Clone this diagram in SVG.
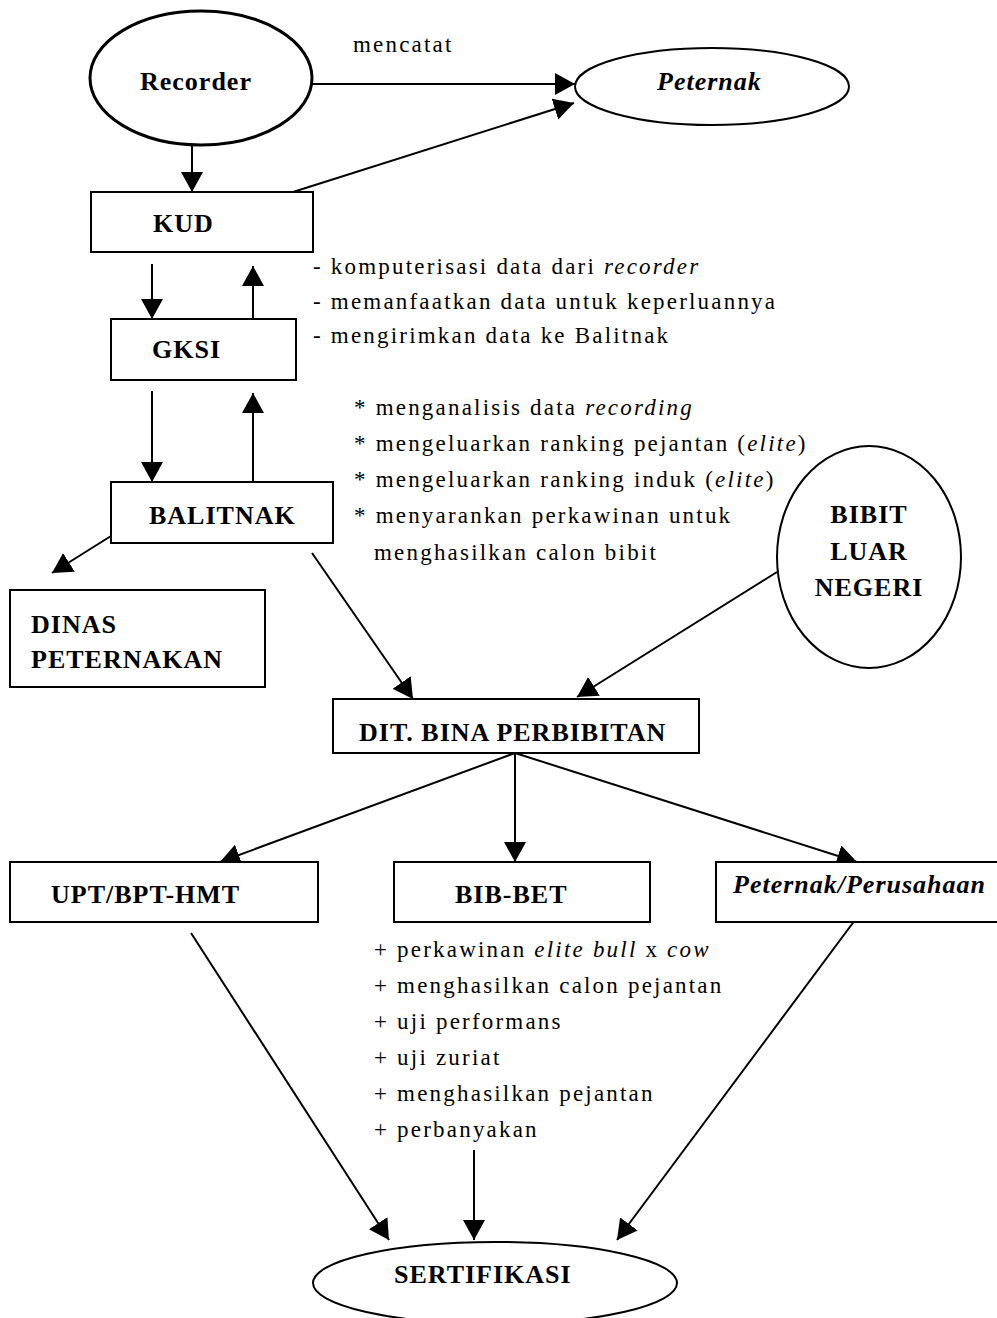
<svg xmlns="http://www.w3.org/2000/svg" width="997" height="1318" viewBox="0 0 997 1318">
<style>
.n{fill:#fff;stroke:#000;stroke-width:2}
.lbl{font-family:"Liberation Serif",serif;font-weight:bold;font-size:26px;letter-spacing:1px;fill:#000}
.txt{font-family:"Liberation Serif",serif;font-size:23px;letter-spacing:2.2px;fill:#000}
.c{stroke:#000;stroke-width:2;fill:none}
</style>
<defs>
<marker id="ah" markerUnits="userSpaceOnUse" markerWidth="22" markerHeight="24" refX="20" refY="11" orient="auto">
<path d="M0,0 L20,11 L0,22 z" fill="#000"/>
</marker>
</defs>
<rect width="997" height="1318" fill="#fff"/>
<g id="connectors">
<line class="c" x1="312" y1="84" x2="575" y2="84" marker-end="url(#ah)"/>
<line class="c" x1="293" y1="192" x2="574" y2="103" marker-end="url(#ah)"/>
<line class="c" x1="192" y1="138" x2="192" y2="192" marker-end="url(#ah)"/>
<line class="c" x1="152" y1="264" x2="152" y2="319" marker-end="url(#ah)"/>
<line class="c" x1="253" y1="319" x2="253" y2="266" marker-end="url(#ah)"/>
<line class="c" x1="152" y1="391" x2="152" y2="482" marker-end="url(#ah)"/>
<line class="c" x1="253" y1="482" x2="253" y2="393" marker-end="url(#ah)"/>
<line class="c" x1="111" y1="536" x2="52" y2="573" marker-end="url(#ah)"/>
<line class="c" x1="312" y1="553" x2="413" y2="699" marker-end="url(#ah)"/>
<line class="c" x1="777" y1="572" x2="577" y2="697" marker-end="url(#ah)"/>
<line class="c" x1="515" y1="753" x2="220" y2="862" marker-end="url(#ah)"/>
<line class="c" x1="515" y1="753" x2="515" y2="862" marker-end="url(#ah)"/>
<line class="c" x1="515" y1="753" x2="857" y2="862" marker-end="url(#ah)"/>
<line class="c" x1="191" y1="933" x2="389" y2="1240" marker-end="url(#ah)"/>
<line class="c" x1="474" y1="1150" x2="474" y2="1240" marker-end="url(#ah)"/>
<line class="c" x1="858" y1="916" x2="617" y2="1240" marker-end="url(#ah)"/>
</g>
<g id="recorder">
<ellipse cx="201" cy="78" rx="111" ry="67" fill="#fff" stroke="#000" stroke-width="3"/>
<text class="lbl" x="140" y="90">Recorder</text>
</g>
<g id="peternak">
<ellipse class="n" cx="712" cy="86.5" rx="137" ry="38.5" stroke-width="1.5"/>
<text class="lbl" x="657" y="90" font-style="italic" letter-spacing="0.5">Peternak</text>
</g>
<text class="txt" x="353" y="52">mencatat</text>
<g id="kud">
<rect class="n" x="91" y="192" width="222" height="60"/>
<text class="lbl" x="153" y="232">KUD</text>
</g>
<g id="gksi">
<rect class="n" x="111" y="319" width="185" height="61"/>
<text class="lbl" x="152" y="358">GKSI</text>
</g>
<g id="balitnak">
<rect class="n" x="111" y="482" width="222" height="61"/>
<text class="lbl" x="149" y="524">BALITNAK</text>
</g>
<g id="dinas">
<rect class="n" x="10" y="590" width="255" height="97"/>
<text class="lbl" x="31" y="633">DINAS</text>
<text class="lbl" x="31" y="668">PETERNAKAN</text>
</g>
<g id="bibit">
<ellipse class="n" cx="869" cy="557" rx="92" ry="111" stroke-width="1.5"/>
<text class="lbl" x="869" y="523" text-anchor="middle">BIBIT</text>
<text class="lbl" x="869" y="560" text-anchor="middle">LUAR</text>
<text class="lbl" x="869" y="596" text-anchor="middle">NEGERI</text>
</g>
<g id="notes1">
<text class="txt" x="313" y="274">- komputerisasi data dari <tspan font-style="italic">recorder</tspan></text>
<text class="txt" x="313" y="309">- memanfaatkan data untuk keperluannya</text>
<text class="txt" x="313" y="343">- mengirimkan data ke Balitnak</text>
</g>
<g id="notes2">
<text class="txt" x="354" y="415">* menganalisis data <tspan font-style="italic">recording</tspan></text>
<text class="txt" x="354" y="451">* mengeluarkan ranking pejantan (<tspan font-style="italic">elite</tspan>)</text>
<text class="txt" x="354" y="487">* mengeluarkan ranking induk (<tspan font-style="italic">elite</tspan>)</text>
<text class="txt" x="354" y="523">* menyarankan perkawinan untuk</text>
<text class="txt" x="374" y="560">menghasilkan calon bibit</text>
</g>
<g id="dit">
<rect class="n" x="333" y="699" width="366" height="54"/>
<text class="lbl" x="359" y="741">DIT. BINA PERBIBITAN</text>
</g>
<g id="upt">
<rect class="n" x="10" y="862" width="308" height="60"/>
<text class="lbl" x="51" y="903">UPT/BPT-HMT</text>
</g>
<g id="bib">
<rect class="n" x="394" y="862" width="256" height="60"/>
<text class="lbl" x="455" y="903">BIB-BET</text>
</g>
<g id="perusahaan">
<rect class="n" x="716" y="862" width="290" height="60"/>
<text class="lbl" x="733" y="893" font-style="italic" font-size="25" letter-spacing="0">Peternak/Perusahaan</text>
</g>
<g id="notes3">
<text class="txt" x="374" y="957">+ perkawinan <tspan font-style="italic">elite bull</tspan> x <tspan font-style="italic">cow</tspan></text>
<text class="txt" x="374" y="993">+ menghasilkan calon pejantan</text>
<text class="txt" x="374" y="1029">+ uji performans</text>
<text class="txt" x="374" y="1065">+ uji zuriat</text>
<text class="txt" x="374" y="1101">+ menghasilkan pejantan</text>
<text class="txt" x="374" y="1137">+ perbanyakan</text>
</g>
<g id="sertifikasi">
<ellipse class="n" cx="495" cy="1283" rx="182" ry="41" stroke-width="1.5"/>
<text class="lbl" x="394" y="1283">SERTIFIKASI</text>
</g>
</svg>
